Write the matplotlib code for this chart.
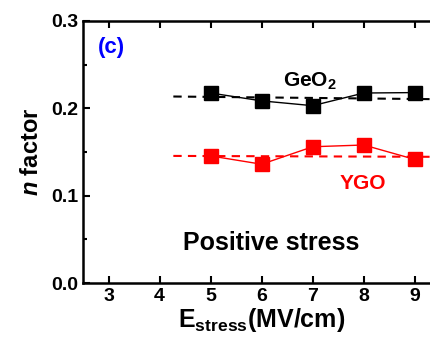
import numpy as np
import matplotlib.pyplot as plt
from matplotlib.ticker import MultipleLocator

plt.rcParams['font.family'] = ['Liberation Sans', 'DejaVu Sans']
plt.rcParams['font.weight'] = 'bold'
plt.rcParams['mathtext.fontset'] = 'custom'
plt.rcParams['mathtext.rm'] = 'Liberation Sans:bold'
plt.rcParams['mathtext.bf'] = 'Liberation Sans:bold'
plt.rcParams['mathtext.it'] = 'Liberation Sans:bold:italic'
plt.rcParams['mathtext.default'] = 'bf'

e_stress = [5, 6, 7, 8, 9]
n_geo2 = [0.2175, 0.2085, 0.203, 0.2175, 0.218]
n_ygo = [0.1455, 0.136, 0.156, 0.158, 0.1415]
fit_x = [4.27, 9.3]
fit_geo2 = [0.2135, 0.2105]
fit_ygo = [0.1455, 0.1445]

fig = plt.figure(figsize=(4.30, 3.49), dpi=100)
ax = fig.add_axes([0.193, 0.189, 0.831, 0.751])

ax.plot(fit_x, fit_geo2, color='black', linestyle=(0, (4, 3)), linewidth=1.5)
ax.plot(fit_x, fit_ygo, color='red', linestyle=(0, (4, 3)), linewidth=1.5)
ax.plot(e_stress, n_geo2, color='black', marker='s', markersize=10, linewidth=1)
ax.plot(e_stress, n_ygo, color='red', marker='s', markersize=10, linewidth=1)

ax.set_xlim(2.5, 9.5)
ax.set_ylim(0.0, 0.3)
ax.xaxis.set_major_locator(MultipleLocator(1))
ax.yaxis.set_minor_locator(MultipleLocator(0.05))
ax.set_yticks([0.0, 0.1, 0.2, 0.3])
ax.set_yticklabels(['0.0', '0.1', '0.2', '0.3'])
ax.tick_params(which='both', direction='in', top=True, right=True, width=1.5, labelsize=14)
ax.tick_params(which='major', length=5)
ax.tick_params(which='minor', length=3)
for s in ax.spines.values():
    s.set_linewidth(1.8)

ax.text(3.06, 0.270, '(c)', color='blue', fontsize=16, fontweight='bold',
        ha='center', va='center')
ax.text(6.94, 0.2314, 'GeO$_2$', fontsize=15, ha='center', va='center')
ax.text(7.98, 0.1145, 'YGO', color='red', fontsize=15, ha='center', va='center')
ax.text(6.19, 0.046, 'Positive stress', fontsize=18, ha='center', va='center')

ax.set_xlabel('E$_{stress}$(MV/cm)', fontsize=18, fontweight='bold', labelpad=1)
ax.set_ylabel('$\\mathit{n}$ factor', fontsize=17, fontweight='bold', labelpad=6)

fig.savefig('out.png', dpi=100)
